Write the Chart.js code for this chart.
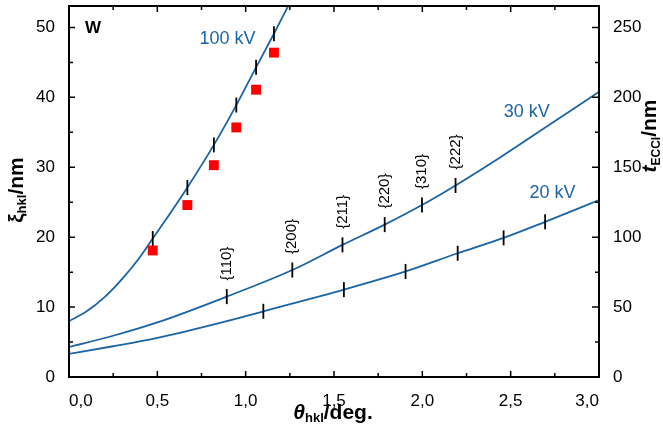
<!DOCTYPE html>
<html>
<head>
<meta charset="utf-8">
<script src="https://cdn.jsdelivr.net/npm/chart.js@4.4.0/dist/chart.umd.min.js"></script>
<style>
  html, body { margin: 0; padding: 0; background: #fff; }
</style>
</head>
<body>
<canvas id="grafico" width="663" height="429"></canvas>
<script>
// curvas de xi_hkl frente a theta_hkl para W (100, 30 y 20 kV)
const thetaCurva100 = [0, 0.1, 0.2, 0.3, 0.4, 0.474, 0.57, 0.670, 0.820, 0.947, 1.059, 1.160, 1.241];
const xiCurva100 = [8.0, 9.4, 11.4, 14.0, 17.1, 19.8, 23.3, 27.1, 33.2, 38.9, 44.3, 49.1, 53.1];
const thetaCurva30 = [0, 0.25, 0.5, 0.893, 1.264, 1.548, 1.787, 1.998, 2.188, 2.44, 2.685, 3.0];
const xiCurva30 = [4.3, 5.9, 7.8, 11.5, 15.3, 18.9, 21.8, 24.6, 27.4, 31.4, 35.5, 40.8];
const thetaCurva20 = [0, 0.25, 0.5, 0.855, 1.100, 1.556, 1.905, 2.200, 2.460, 2.695, 3.0];
const xiCurva20 = [3.3, 4.4, 5.6, 7.75, 9.4, 12.5, 15.1, 17.7, 19.9, 22.2, 25.3];

// reflexiones y sus posiciones sobre cada curva
const hkl = ['{110}', '{200}', '{211}', '{220}', '{310}', '{222}'];
const theta100 = [0.474, 0.670, 0.820, 0.947, 1.059, 1.160];
const xi100 = [19.8, 27.1, 33.2, 38.9, 44.3, 49.1];
const theta30 = [0.893, 1.264, 1.548, 1.787, 1.998, 2.188];
const xi30 = [11.5, 15.3, 18.9, 21.8, 24.6, 27.4];
const theta20 = [1.100, 1.556, 1.905, 2.200, 2.460, 2.695];
const xi20 = [9.4, 12.5, 15.1, 17.7, 19.9, 22.2];

// valores medidos (cuadrados rojos) a 100 kV
const xiMedido = [18.1, 24.6, 30.3, 35.7, 41.1, 46.4];

// ejes
const xMax = 3.0;
const xiMax = 53.07;
const factorT = 5; // t_ECCI = 5 * xi

const AZUL = '#1a64a6';
const FUENTE = "'Liberation Sans', Arial, sans-serif";

function puntos(xs, ys) {
  return xs.map(function (x, i) { return {x: x, y: ys[i]}; });
}

function curva(xs, ys) {
  return {
    data: puntos(xs, ys), showLine: true, borderColor: AZUL, borderWidth: 1.8,
    pointRadius: 0, cubicInterpolationMode: 'monotone', fill: false
  };
}

function marcas(xs, ys) {
  return {
    data: puntos(xs, ys), showLine: false, pointStyle: 'line', pointRotation: 90,
    pointRadius: 7.5, pointBorderColor: '#000', pointBorderWidth: 1.8,
    borderColor: '#000', pointHoverRadius: 7.5
  };
}

// etiquetas de las curvas, en coordenadas de datos
const etiquetasKV = [
  {texto: '100 kV', x: 0.897, y: 48.4},
  {texto: '30 kV', x: 2.591, y: 37.9},
  {texto: '20 kV', x: 2.737, y: 26.3}
];

// marcas hacia dentro, marco y textos
const ejes = {
  id: 'ejes',
  afterDatasetsDraw(chart) {
    const ctx = chart.ctx;
    const a = chart.chartArea;
    const sx = chart.scales.x, sy = chart.scales.y, sy2 = chart.scales.y2;
    ctx.save();
    ctx.strokeStyle = '#000';
    ctx.lineWidth = 1.5;
    ctx.beginPath();
    for (let i = 1; i < 12; i++) {
      const px = sx.getPixelForValue(i * 0.25);
      const l = i % 2 === 0 ? 6 : 4;
      ctx.moveTo(px, a.bottom); ctx.lineTo(px, a.bottom - l);
      ctx.moveTo(px, a.top); ctx.lineTo(px, a.top + l);
    }
    for (let v = 5; v < xiMax; v += 5) {
      const py = sy.getPixelForValue(v);
      const l = v % 10 === 0 ? 6 : 4;
      ctx.moveTo(a.left, py); ctx.lineTo(a.left + l, py);
    }
    for (let v = 25; v < xiMax * factorT; v += 25) {
      const py = sy2.getPixelForValue(v);
      const l = v % 50 === 0 ? 7 : 4;
      ctx.moveTo(a.right, py); ctx.lineTo(a.right - l, py);
    }
    ctx.stroke();
    ctx.lineWidth = 2;
    ctx.strokeRect(a.left, a.top, a.right - a.left, a.bottom - a.top);

    // indices de Miller sobre la curva de 30 kV
    ctx.fillStyle = '#000';
    ctx.font = '15px ' + FUENTE;
    ctx.textAlign = 'left';
    ctx.textBaseline = 'middle';
    hkl.forEach(function (t, i) {
      const px = sx.getPixelForValue(theta30[i]);
      const py = sy.getPixelForValue(xi30[i]);
      ctx.save();
      ctx.translate(px, py - 16);
      ctx.rotate(-Math.PI / 2);
      ctx.fillText(t, 0, 0);
      ctx.restore();
    });

    ctx.fillStyle = AZUL;
    ctx.font = '18px ' + FUENTE;
    ctx.textAlign = 'center';
    etiquetasKV.forEach(function (e) {
      ctx.fillText(e.texto, sx.getPixelForValue(e.x), sy.getPixelForValue(e.y));
    });

    ctx.fillStyle = '#000';
    ctx.font = 'bold 17px ' + FUENTE;
    ctx.fillText('W', a.left + 24, a.top + 22);
    ctx.restore();

    // titulos de ejes con subindices
    titulo(ctx, [['bold italic 21px', '\u03b8', 0], ['bold 13px', 'hkl', 3], ['bold 21px', '/deg.', 0]], 333, 419, 0);
    titulo(ctx, [['bold 21px', '\u03be', 0], ['bold 13px', 'hkl', 3], ['bold 21px', '/nm', 0]], 23, 190, -Math.PI / 2);
    titulo(ctx, [['bold italic 21px', 't', 0], ['bold 12px', 'ECCI', 4], ['bold 21px', '/nm', 0]], 656, 136, -Math.PI / 2);
  }
};

function titulo(ctx, partes, cx, cy, giro) {
  ctx.save();
  ctx.translate(cx, cy);
  ctx.rotate(giro);
  ctx.fillStyle = '#000';
  ctx.textAlign = 'left';
  ctx.textBaseline = 'alphabetic';
  let total = 0;
  partes.forEach(function (p) { ctx.font = p[0] + ' ' + FUENTE; total += ctx.measureText(p[1]).width; });
  let x = -total / 2;
  partes.forEach(function (p) {
    ctx.font = p[0] + ' ' + FUENTE;
    ctx.fillText(p[1], x, p[2]);
    x += ctx.measureText(p[1]).width;
  });
  ctx.restore();
}

function sinRelleno(scale) {
  scale.paddingTop = 0; scale.paddingBottom = 0;
  scale.paddingLeft = 0; scale.paddingRight = 0;
}

const fuenteTicks = {family: FUENTE, size: 17};

new Chart(document.getElementById('grafico'), {
  type: 'scatter',
  data: {
    datasets: [
      {
        data: puntos(theta100, xiMedido), showLine: false, pointStyle: 'rect',
        pointRadius: 7, pointBackgroundColor: '#ff0000', pointBorderColor: '#ff0000',
        pointBorderWidth: 0, pointHoverRadius: 7
      },
      marcas(theta100, xi100),
      marcas(theta30, xi30),
      marcas(theta20, xi20),
      curva(thetaCurva100, xiCurva100),
      curva(thetaCurva30, xiCurva30),
      curva(thetaCurva20, xiCurva20)
    ]
  },
  options: {
    responsive: false,
    animation: false,
    devicePixelRatio: 1,
    layout: {autoPadding: false, padding: {top: 6, left: 0, right: 0, bottom: 0}},
    plugins: {legend: {display: false}, tooltip: {enabled: false}},
    scales: {
      x: {
        type: 'linear', position: 'bottom', min: 0, max: xMax,
        grid: {display: false}, border: {display: false},
        ticks: {
          stepSize: 0.5, align: 'inner', padding: 6, color: '#000', font: fuenteTicks,
          maxRotation: 0, includeBounds: false,
          callback: function (v) { return v.toFixed(1).replace('.', ','); }
        },
        afterFit: function (s) { s.height = 52; sinRelleno(s); }
      },
      y: {
        type: 'linear', position: 'left', min: 0, max: xiMax,
        grid: {display: false}, border: {display: false},
        ticks: {stepSize: 10, padding: 6, color: '#000', font: fuenteTicks, includeBounds: false},
        afterFit: function (s) { s.width = 69; sinRelleno(s); }
      },
      y2: {
        type: 'linear', position: 'right', min: 0, max: xiMax * factorT,
        grid: {display: false}, border: {display: false},
        ticks: {stepSize: 50, padding: 6, color: '#000', font: fuenteTicks, includeBounds: false},
        afterFit: function (s) { s.width = 64; sinRelleno(s); }
      }
    }
  },
  plugins: [ejes]
});
</script>
</body>
</html>
